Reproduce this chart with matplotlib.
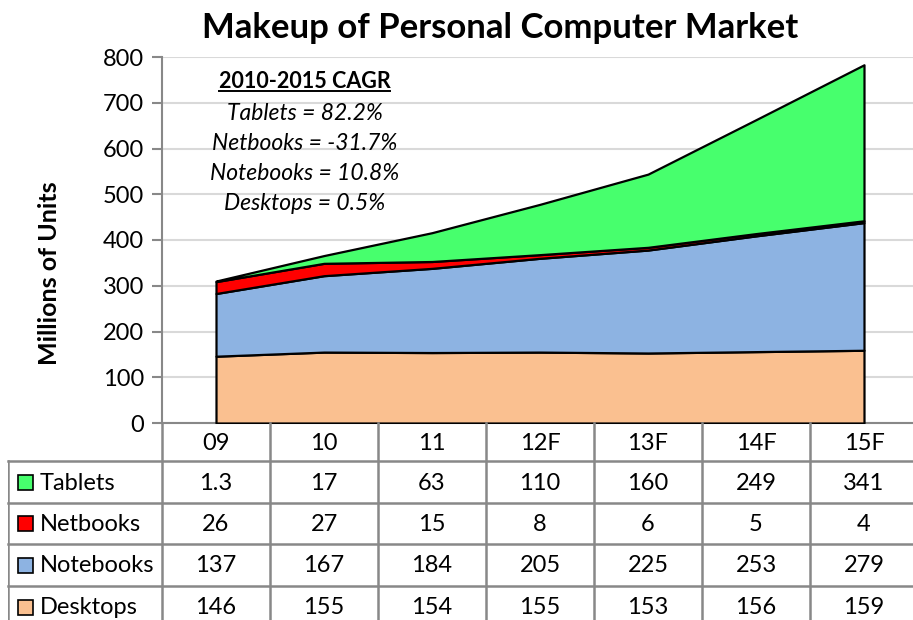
import numpy as np
import matplotlib.pyplot as plt
from matplotlib.patches import Rectangle
from matplotlib.lines import Line2D

plt.rcParams['font.family'] = ['Lato', 'DejaVu Sans']

# 데이터
years = ['09', '10', '11', '12F', '13F', '14F', '15F']
tablets = [1.3, 17, 63, 110, 160, 249, 341]
netbooks = [26, 27, 15, 8, 6, 5, 4]
notebooks = [137, 167, 184, 205, 225, 253, 279]
desktops = [146, 155, 154, 155, 153, 156, 159]
cagr_lines = ['Tablets = 82.2%', 'Netbooks = -31.7%',
              'Notebooks = 10.8%', 'Desktops = 0.5%']

names = ['Tablets', 'Netbooks', 'Notebooks', 'Desktops']
values = [tablets, netbooks, notebooks, desktops]
colors = ['#47FF6D', '#FF0000', '#8DB3E2', '#FAC090']

W, H = 913, 620
fig = plt.figure(figsize=(W / 100, H / 100), dpi=100)

# 메인 차트 축
ax = fig.add_axes([162 / W, (H - 423) / H, (918 - 162) / W, (423 - 57) / H])
x = np.arange(len(years))

# 아래에서부터 누적 (Desktops -> Notebooks -> Netbooks -> Tablets)
base = np.zeros(len(years))
for name, vals, col in reversed(list(zip(names, values, colors))):
    top = base + np.array(vals)
    ax.fill_between(x, base, top, facecolor=col, edgecolor='black',
                    linewidth=1.6, zorder=3)
    base = top

ax.set_xlim(-0.5, 6.5)
ax.set_ylim(0, 800)
ax.set_yticks(np.arange(0, 801, 100))
ax.set_xticks([])
ax.tick_params(axis='y', labelsize=17, length=7, width=1.5,
               color='#888888', pad=6)
ax.grid(axis='y', color='#D9D9D9', linewidth=1.5, zorder=0)
ax.set_axisbelow(True)
for s in ['top', 'right']:
    ax.spines[s].set_visible(False)
for s in ['left', 'bottom']:
    ax.spines[s].set_color('#888888')
    ax.spines[s].set_linewidth(1.5)
ax.set_ylabel('Millions of Units', fontsize=18, fontweight='bold')
ax.yaxis.set_label_coords(-0.133, 0.41)

fig.text(500 / W, 1 - 28 / H, 'Makeup of Personal Computer Market',
         ha='center', va='center', fontsize=25, fontweight='bold')

# CAGR 텍스트
t_head = ax.text(0.82, 746, '2010-2015 CAGR', ha='center', va='center',
                 fontsize=15.5, fontweight='bold', zorder=5)
for i, line in enumerate(cagr_lines):
    ax.text(0.82, 676 - i * 65.5, line, ha='center', va='center',
            fontsize=16.5, style='italic', zorder=5)

# 데이터 테이블 축
ax_t = fig.add_axes([8 / W, (H - 628) / H, 910 / W, 205 / H])
left = -0.5 - 154 / 108
ax_t.set_xlim(left, 6.5)
ax_t.set_ylim(205, 0)
ax_t.axis('off')

row_edges = [0, 38, 80, 121, 163, 205]
gc = '#888888'
lw = 1.8
# 세로선
for xb in np.arange(-0.5, 7.0, 1.0):
    ax_t.plot([xb, xb], [0, 205], color=gc, lw=lw, clip_on=False)
ax_t.plot([left, left], [38, 205], color=gc, lw=lw)
# 가로선
for yb in row_edges[1:]:
    ax_t.plot([left, 6.5], [yb, yb], color=gc, lw=lw, clip_on=False)

# 헤더
hy = (row_edges[0] + row_edges[1]) / 2 + 1
for i, yr in enumerate(years):
    ax_t.text(i, hy, yr, ha='center', va='center', fontsize=17)

# 행
sq = 15
for r, (name, vals, col) in enumerate(zip(names, values, colors)):
    cy = (row_edges[r + 1] + row_edges[r + 2]) / 2 + 1
    ax_t.add_patch(Rectangle((left + 10 / 108, cy - sq / 2 - 1), sq / 108, sq,
                             facecolor=col, edgecolor='black', lw=1.2))
    ax_t.text(left + 32 / 108, cy, name, ha='left', va='center', fontsize=17)
    for i, v in enumerate(vals):
        ax_t.text(i, cy, f'{v:g}', ha='center', va='center', fontsize=17)

# 밑줄
fig.canvas.draw()
bb = t_head.get_window_extent().transformed(fig.transFigure.inverted())
uy = bb.y0 + 1.5 / H
fig.add_artist(Line2D([bb.x0, bb.x1], [uy, uy], color='black', lw=1.4,
                      transform=fig.transFigure))

fig.savefig('out.png', dpi=100)
